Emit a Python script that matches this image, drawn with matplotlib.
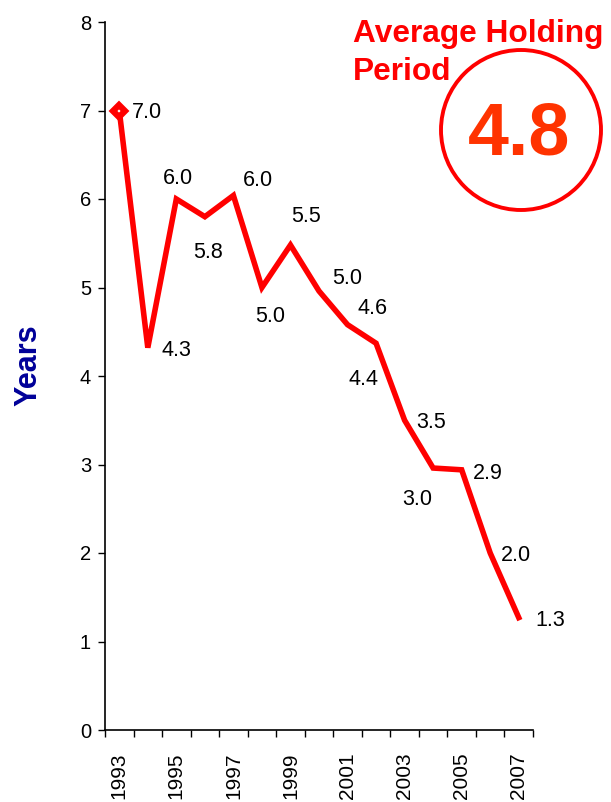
"""Average holding period in years, 1993-2007, as a single red line."""
import matplotlib
matplotlib.use("Agg")
import matplotlib.pyplot as plt
from matplotlib.patches import Ellipse
import numpy as np

plt.rcParams["font.family"] = ["Liberation Sans", "DejaVu Sans"]

years = ["1993", "1994", "1995", "1996", "1997", "1998", "1999", "2000",
         "2001", "2002", "2003", "2004", "2005", "2006", "2007"]
holding_years = [7.0, 4.32, 6.0, 5.8, 6.04, 5.0, 5.48, 4.96,
                 4.58, 4.37, 3.5, 2.96, 2.94, 2.0, 1.27]
average_period = 4.8

# label placement, pixel offsets from each point (x right, y up)
label_offsets = [(28, 0), (29, 0), (2, 23), (3, -33), (25, 17), (8, -27),
                 (16, 31), (28, 15), (25, 19), (-13, -34), (27, 0),
                 (-16, -29), (26, -1), (26, 0), (32, 0)]

W, H = 611, 802
fig = plt.figure(figsize=(W / 100, H / 100), dpi=100)
ax = fig.add_axes([105 / W, 1 - 730 / H, (533 - 105) / W, (730 - 22) / H])

x = np.arange(len(years))
ax.plot(x, holding_years, color="#FF0000", lw=4, solid_joinstyle="miter",
        zorder=3)
ax.plot(x[:1], holding_years[:1], marker="D", ms=6, mfc="white",
        mec="#FF0000", mew=4.5, ls="", zorder=4)

for xi, v, (dx, dy) in zip(x, holding_years, label_offsets):
    ax.annotate(f"{v:.1f}", xy=(xi, v), xytext=(dx, dy),
                textcoords="offset pixels", ha="center",
                va="center_baseline", fontsize=15.5, color="black")

ax.set_xlim(-0.5, len(years) - 0.5)
ax.set_ylim(0, 8)
ax.set_yticks(range(0, 9))
ax.tick_params(axis="y", direction="out", length=5, width=1, pad=5,
               labelsize=14.5)

# tick marks on the category boundaries, labels on every other year
ax.set_xticks(np.arange(-0.5, len(years), 1), minor=True)
ax.set_xticks(x[::2])
ax.set_xticklabels(years[::2], rotation=90, fontsize=15)
ax.tick_params(axis="x", which="minor", direction="out", length=5, width=1)
ax.tick_params(axis="x", which="major", length=0, pad=16)

for side in ("top", "right"):
    ax.spines[side].set_visible(False)
for side in ("left", "bottom"):
    ax.spines[side].set_linewidth(1.2)

fig.text(28 / W, 1 - 365 / H, "Years", rotation=90, ha="center",
         va="center", fontsize=22, fontweight="bold", color="#000099")

fig.text(353 / W, 1 - 42 / H, "Average Holding", ha="left",
         va="baseline", fontsize=22.8, fontweight="bold", color="#FF0000")
fig.text(353 / W, 1 - 80 / H, "Period", ha="left",
         va="baseline", fontsize=22.8, fontweight="bold", color="#FF0000")

fig.add_artist(Ellipse((521 / W, 1 - 130 / H), 160 / W, 160 / H,
                       transform=fig.transFigure, fill=False,
                       edgecolor="#FF0000", lw=2.8))
fig.text(519 / W, 1 - 135 / H, f"{average_period:.1f}", ha="center",
         va="center", fontsize=53, fontweight="bold", color="#FF3300")

fig.savefig("out.png", dpi=100)
